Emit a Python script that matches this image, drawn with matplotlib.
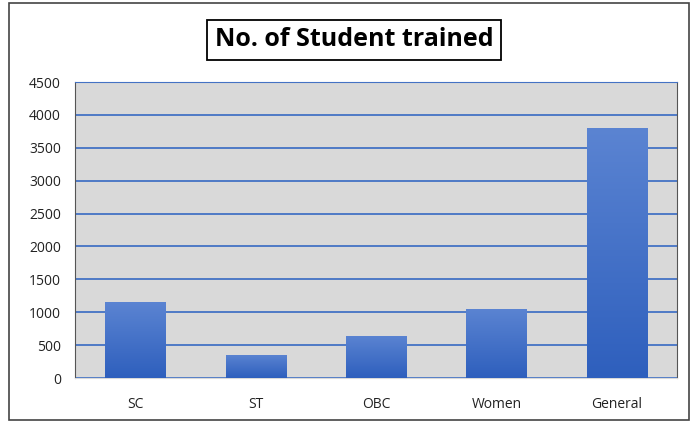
import matplotlib.pyplot as plt
import numpy as np
from matplotlib.patches import Rectangle
from matplotlib.colors import LinearSegmentedColormap

categories = ["SC", "ST", "OBC", "Women", "General"]
students = [1150, 350, 640, 1050, 3800]
yticks = [0, 500, 1000, 1500, 2000, 2500, 3000, 3500, 4000, 4500]

plt.rcParams['font.family'] = ['Open Sans', 'DejaVu Sans']

fig = plt.figure(figsize=(6.98, 4.23), dpi=100)
ax = fig.add_axes([75 / 698, 1 - 378 / 423, 602 / 698, 296 / 423])

ax.set_facecolor('#d9d9d9')
ax.yaxis.grid(True, color='#4472c4', linewidth=1.3)
ax.set_axisbelow(True)

x = np.arange(len(categories))
bars = ax.bar(x, students, width=0.5, color='#3d6cc8', zorder=2)

# vertical gradient on each bar
grad = np.linspace(0, 1, 256).reshape(-1, 1)
cmap = LinearSegmentedColormap.from_list('g', ['#2e5fbd', '#5b84d2'])
for b in bars:
    bx, by = b.get_x(), b.get_y()
    w, h = b.get_width(), b.get_height()
    im = ax.imshow(grad, extent=[bx, bx + w, by, by + h], origin='lower',
                   cmap=cmap, aspect='auto', zorder=3)
    im.set_clip_path(b)

ax.set_xlim(-0.5, len(categories) - 0.5)
ax.set_ylim(0, 4500)
ax.set_yticks(yticks)
ax.set_xticks(x)
ax.set_xticklabels(categories)
ax.tick_params(axis='both', length=0, labelsize=10, colors='#222222')
ax.tick_params(axis='x', pad=14)
ax.tick_params(axis='y', pad=10)

for s in ['left', 'right']:
    ax.spines[s].set_color('#555555')
ax.spines['top'].set_color('#4472c4')
ax.spines['bottom'].set_color('#d9d9d9')

# outer border
fig.patches.append(Rectangle((9 / 698, 3 / 423), 680 / 698, 417 / 423,
                             transform=fig.transFigure, fill=False,
                             edgecolor='#444444', linewidth=1.2))

fig.text(354 / 698, 1 - 40 / 423, "No. of Student trained", ha='center', va='center',
         fontsize=18, fontweight='bold',
         bbox=dict(boxstyle='square,pad=0.3', facecolor='white', edgecolor='black', linewidth=1.3))

fig.savefig('out.png', dpi=100)
